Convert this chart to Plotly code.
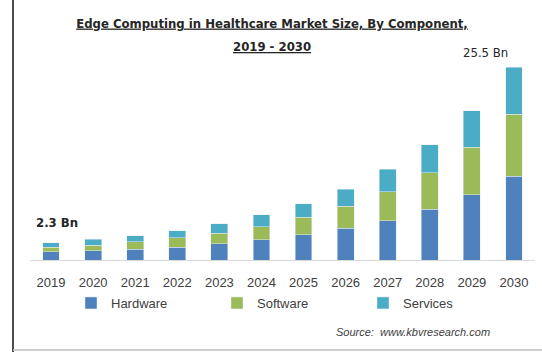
import plotly.graph_objects as go

years = ["2019", "2020", "2021", "2022", "2023", "2024", "2025", "2026", "2027", "2028", "2029", "2030"]
hardware = [1.10, 1.23, 1.42, 1.68, 2.12, 2.65, 3.31, 4.19, 5.20, 6.71, 8.60, 11.11]
software = [0.58, 0.75, 0.97, 1.27, 1.42, 1.76, 2.34, 2.95, 3.84, 4.86, 6.31, 8.20]
services = [0.62, 0.75, 0.79, 0.93, 1.23, 1.55, 1.76, 2.21, 2.95, 3.66, 4.86, 6.19]
totals = [round(h + s + v, 1) for h, s, v in zip(hardware, software, services)]

W, H = 542, 352
ML, MR, MT, MB = 30, 7, 55, 92
PW, PH = W - ML - MR, H - MT - MB

def px_x(p):
    return (p - ML) / PW

def px_y(p):
    return (H - MB - p) / PH

TITLE_FONT = dict(family="DejaVu Sans Condensed, sans-serif", size=13, color="#262626")

fig = go.Figure()
fig.add_trace(go.Bar(name="Hardware", x=years, y=hardware, marker_color="#4F81BD"))
fig.add_trace(go.Bar(name="Software", x=years, y=software, marker_color="#9BBB59"))
fig.add_trace(go.Bar(name="Services", x=years, y=services, marker_color="#4BACC6"))

fig.update_layout(
    barmode="stack",
    bargap=0.6,
    width=W, height=H,
    margin=dict(l=ML, r=MR, t=MT, b=MB, pad=0),
    paper_bgcolor="white",
    plot_bgcolor="white",
    font=dict(family="Liberation Sans, Arial, sans-serif", size=12, color="#404040"),
    title=dict(
        text="<b><u>Edge Computing in Healthcare Market Size, By Component,</u></b>",
        x=272 / W, xanchor="center", xref="container",
        y=1 - 23 / H, yanchor="middle", yref="container",
        font=TITLE_FONT,
    ),
    xaxis=dict(
        type="category",
        showline=True, linecolor="#D9D9D9", linewidth=1,
        ticks="", showgrid=False,
        tickfont=dict(size=13, color="#404040"),
        ticklabelstandoff=10,
        range=[-0.5, 11.5],
    ),
    yaxis=dict(visible=False, range=[0, 27.12]),
    showlegend=True,
    legend=dict(
        orientation="h",
        x=px_x(71), xanchor="left",
        y=px_y(303), yanchor="middle",
        entrywidth=101, entrywidthmode="pixels",
        itemwidth=30,
        bgcolor="rgba(0,0,0,0)",
        font=dict(size=13, color="#404040"),
        traceorder="normal",
    ),
)

fig.add_annotation(
    text="<b><u>2019 - 2030</u></b>", xref="paper", yref="paper",
    x=px_x(272), y=px_y(47), xanchor="center", yanchor="middle", showarrow=False,
    font=TITLE_FONT,
)
fig.add_annotation(
    text="<b>%.1f Bn</b>" % totals[0], x=0, y=totals[0], xref="x", yref="y",
    yanchor="bottom", xanchor="center", yshift=11, xshift=6, showarrow=False,
    font=dict(size=13, color="#262626", family="DejaVu Sans Condensed, sans-serif"),
)
fig.add_annotation(
    text="%.1f Bn" % totals[-1], x=len(years) - 1, y=totals[-1], xref="x", yref="y",
    yanchor="bottom", xanchor="center", yshift=5, xshift=-28, showarrow=False,
    font=dict(size=13, color="#262626", family="DejaVu Sans Condensed, sans-serif"),
)
fig.add_annotation(
    text="<i>Source:  www.kbvresearch.com</i>", xref="paper", yref="paper",
    x=px_x(413), y=px_y(332), xanchor="center", yanchor="middle", showarrow=False,
    font=dict(size=11, color="#404040"),
)
# frame lines of the original picture
fig.add_shape(type="line", xref="paper", yref="paper",
              x0=px_x(13), x1=px_x(13), y0=px_y(0), y1=px_y(352),
              line=dict(color="#111111", width=1.5))
fig.add_shape(type="line", xref="paper", yref="paper",
              x0=px_x(13), x1=px_x(542), y0=px_y(350), y1=px_y(350),
              line=dict(color="#BFBFBF", width=1.5))

fig.write_html("out.html")
